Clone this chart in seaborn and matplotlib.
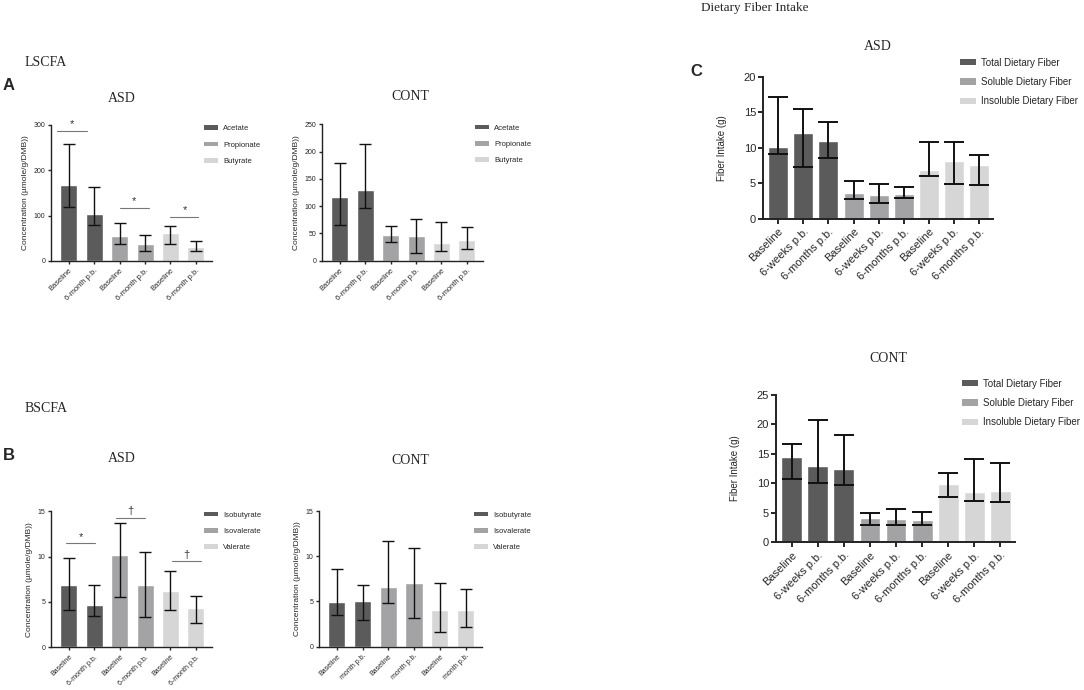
import numpy as np
import pandas as pd
import seaborn as sns
from matplotlib import pyplot as plt
from matplotlib.patches import Patch

sns.set_style("ticks")
plt.rcParams['font.family'] = ['Liberation Sans', 'DejaVu Sans']

# shades used by all panels
dark, mid, light = "#5b5b5b", "#a3a3a6", "#d6d6d6"

# ---- LSCFA (panel A) ----
lscfa_groups = ["Acetate", "Propionate", "Butyrate"]
lscfa_ticks = ["Baseline", "6-month p.b."] * 3
lscfa_asd_med = [167, 103, 55, 38, 62, 30]
lscfa_asd_lo = [118, 78, 38, 21, 38, 22]
lscfa_asd_hi = [257, 163, 83, 56, 76, 44]
lscfa_cont_med = [116, 130, 47, 45, 33, 38]
lscfa_cont_lo = [65, 96, 34, 15, 18, 22]
lscfa_cont_hi = [179, 213, 63, 76, 71, 62]
lscfa_asd_sig = [(-0.45, 0.7, 287, "*"), (2.0, 3.15, 117, "*"), (4.0, 5.1, 97, "*")]

# ---- BSCFA (panel B) ----
bscfa_groups = ["Isobutyrate", "Isovalerate", "Valerate"]
bscfa_ticks = ["Baseline", "6-month p.b."] * 3
bscfa_cont_ticks = ["Baseline", "month p.b."] * 3
bscfa_asd_med = [6.9, 4.7, 10.2, 6.9, 6.2, 4.3]
bscfa_asd_lo = [4.1, 3.4, 5.5, 3.3, 4.1, 2.7]
bscfa_asd_hi = [9.9, 6.9, 13.7, 10.5, 8.4, 5.6]
bscfa_cont_med = [4.9, 5.1, 6.6, 7.0, 4.0, 4.0]
bscfa_cont_lo = [3.5, 2.9, 4.8, 3.2, 1.6, 2.2]
bscfa_cont_hi = [8.6, 6.8, 11.7, 10.9, 7.1, 6.4]
bscfa_asd_sig = [(-0.1, 1.05, 11.5, "*"), (1.85, 3.0, 14.3, "†"), (4.05, 5.2, 9.5, "†")]

# ---- Dietary fiber (panel C) ----
fiber_groups = ["Total Dietary Fiber", "Soluble Dietary Fiber", "Insoluble Dietary Fiber"]
fiber_ticks = ["Baseline", "6-weeks p.b.", "6-months p.b."] * 3
fiber_asd_med = [10.1, 12.1, 10.9, 3.6, 3.3, 3.5, 6.9, 8.1, 7.5]
fiber_asd_lo = [9.1, 7.3, 8.6, 2.8, 2.2, 2.9, 6.0, 4.9, 4.7]
fiber_asd_hi = [17.1, 15.5, 13.6, 5.3, 4.9, 4.5, 10.8, 10.8, 9.0]
fiber_cont_med = [14.4, 13.0, 12.4, 4.1, 3.9, 3.8, 9.9, 8.6, 8.7]
fiber_cont_lo = [10.8, 10.1, 9.7, 3.0, 3.0, 2.9, 7.7, 7.0, 6.9]
fiber_cont_hi = [16.6, 20.7, 18.1, 5.0, 5.6, 5.1, 11.8, 14.1, 13.4]


def draw_panel(ax, groups, ticks, med, lo, hi, ymax, ystep, ylabel, small=True,
               leg_anchor=(0.93, 1.02), sig=None, xfs=None):
    n_per = len(med) // len(groups)
    grp = [g for g in groups for _ in range(n_per)]
    df = pd.DataFrame({"slot": [f"{i}" for i in range(len(med))],
                       "value": med, "group": grp})
    pal = dict(zip(groups, [dark, mid, light]))
    width = 0.67 if small else 0.8
    sns.barplot(data=df, x="slot", y="value", hue="group", palette=pal,
                dodge=False, width=width, saturation=1, errorbar=None,
                legend=False, ax=ax)
    med, lo, hi = np.array(med), np.array(lo), np.array(hi)
    x = np.arange(len(med))
    lw = 1.0 if small else 1.4
    ax.errorbar(x, med, yerr=[med - lo, hi - med], fmt="none", ecolor="#111111",
                elinewidth=lw, capsize=4.3 if small else 7, capthick=lw, zorder=5)

    ax.set_xlim(-0.7 if small else -0.6, len(med) - 0.35 if small else len(med) - 0.45)
    ax.set_ylim(0, ymax)
    ax.set_yticks(np.arange(0, ymax + 1e-9, ystep))
    ax.set_xticks(x)
    fs_x, yfs, lfs, gfs = (5.4, 5.0, 6.0, 5.5) if small else (8, 8, 7, 7)
    ax.set_xticklabels(ticks, rotation=45, ha="right", rotation_mode="anchor",
                       fontsize=xfs or fs_x)
    ax.tick_params(axis="y", labelsize=yfs, length=2.5 if small else 3.5, width=lw, pad=1.5)
    ax.tick_params(axis="x", length=2.5 if small else 3.5, width=lw, pad=2)
    ax.set_xlabel("")
    ax.set_ylabel(ylabel, fontsize=lfs, labelpad=3 if small else 12)
    sns.despine(ax=ax)
    for s in ("left", "bottom"):
        ax.spines[s].set_linewidth(lw)
        ax.spines[s].set_color("#222222")

    handles = [Patch(facecolor=c, edgecolor="none") for c in (dark, mid, light)]
    ax.legend(handles, groups, loc="upper left", bbox_to_anchor=leg_anchor,
              frameon=False, fontsize=gfs, handlelength=1.8 if small else 1.6,
              handleheight=0.6, labelspacing=1.2 if small else 0.95,
              handletextpad=0.7 if small else 0.55, borderaxespad=0)

    for x0, x1, y, mark in (sig or []):
        ax.plot([x0, x1], [y, y], color="#777777", lw=0.8, clip_on=False)
        ax.annotate(mark, ((x0 + x1) / 2, y), xytext=(0, 1), textcoords="offset points",
                    ha="center", va="bottom", fontsize=8, color="#333333",
                    annotation_clip=False)


fig = plt.figure(figsize=(10.84, 6.9), dpi=100)
conc_label = "Concentration (µmole/g/DMB))"

ax = fig.add_axes([0.047, 0.622, 0.149, 0.197])
draw_panel(ax, lscfa_groups, lscfa_ticks, lscfa_asd_med, lscfa_asd_lo, lscfa_asd_hi,
           300, 100, conc_label, sig=lscfa_asd_sig)
ax = fig.add_axes([0.297, 0.622, 0.149, 0.198])
draw_panel(ax, lscfa_groups, lscfa_ticks, lscfa_cont_med, lscfa_cont_lo, lscfa_cont_hi,
           250, 50, conc_label)

ax = fig.add_axes([0.047, 0.062, 0.149, 0.197])
draw_panel(ax, bscfa_groups, bscfa_ticks, bscfa_asd_med, bscfa_asd_lo, bscfa_asd_hi,
           15, 5, conc_label, sig=bscfa_asd_sig, xfs=5.0)
ax = fig.add_axes([0.294, 0.063, 0.151, 0.196])
draw_panel(ax, bscfa_groups, bscfa_cont_ticks, bscfa_cont_med, bscfa_cont_lo, bscfa_cont_hi,
           15, 5, conc_label, xfs=5.0)

ax = fig.add_axes([0.704, 0.683, 0.212, 0.206])
draw_panel(ax, fiber_groups, fiber_ticks, fiber_asd_med, fiber_asd_lo, fiber_asd_hi,
           20, 5, "Fiber Intake (g)", small=False, leg_anchor=(0.84, 1.16))
ax = fig.add_axes([0.716, 0.214, 0.220, 0.214])
draw_panel(ax, fiber_groups, fiber_ticks, fiber_cont_med, fiber_cont_lo, fiber_cont_hi,
           25, 5, "Fiber Intake (g)", small=False, leg_anchor=(0.765, 1.135))

serif = ["Liberation Serif", "DejaVu Serif"]
fig.text(25 / 1084, 1 - 63 / 690, "LSCFA", family=serif, fontsize=10, va="center")
fig.text(3 / 1084, 1 - 86 / 690, "A", fontsize=12, fontweight="bold", va="center")
fig.text(122 / 1084, 1 - 98 / 690, "ASD", family=serif, fontsize=10, ha="center", va="center")
fig.text(410 / 1084, 1 - 97 / 690, "CONT", family=serif, fontsize=10, ha="center", va="center")
fig.text(25 / 1084, 1 - 408 / 690, "BSCFA", family=serif, fontsize=10, va="center")
fig.text(3 / 1084, 1 - 455 / 690, "B", fontsize=12, fontweight="bold", va="center")
fig.text(122 / 1084, 1 - 458 / 690, "ASD", family=serif, fontsize=10, ha="center", va="center")
fig.text(410 / 1084, 1 - 460 / 690, "CONT", family=serif, fontsize=10, ha="center", va="center")
fig.text(701 / 1084, 1 - 8 / 690, "Dietary Fiber Intake", family=serif, fontsize=9.5, va="center")
fig.text(690 / 1084, 1 - 72 / 690, "C", fontsize=12, fontweight="bold", va="center")
fig.text(878 / 1084, 1 - 47 / 690, "ASD", family=serif, fontsize=10, ha="center", va="center")
fig.text(888 / 1084, 1 - 358 / 690, "CONT", family=serif, fontsize=10, ha="center", va="center")

fig.savefig("out.png", dpi=100)
